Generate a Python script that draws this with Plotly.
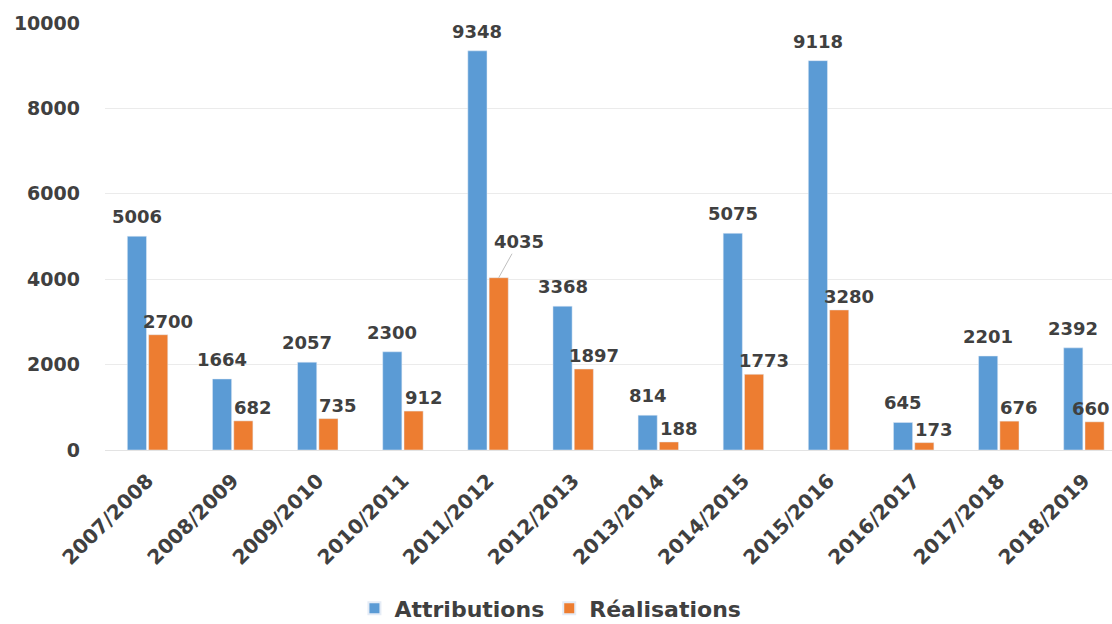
import plotly.graph_objects as go

seasons = ["2007/2008", "2008/2009", "2009/2010", "2010/2011", "2011/2012", "2012/2013",
           "2013/2014", "2014/2015", "2015/2016", "2016/2017", "2017/2018", "2018/2019"]
attributions = [5006, 1664, 2057, 2300, 9348, 3368, 814, 5075, 9118, 645, 2201, 2392]
realisations = [2700, 682, 735, 912, 4035, 1897, 188, 1773, 3280, 173, 676, 660]
y_ticks = [0, 2000, 4000, 6000, 8000, 10000]

BLUE = "#5B9BD5"
ORANGE = "#ED7D31"
TEXT = "#404040"
FONT = "DejaVu Sans"
LABEL_FONT = dict(family=FONT, size=18, color=TEXT, weight="bold")

fig = go.Figure()
fig.add_trace(go.Bar(name="Attributions", x=seasons, y=attributions, marker_color=BLUE))
fig.add_trace(go.Bar(name="Réalisations", x=seasons, y=realisations, marker_color=ORANGE))

annotations = []
# Blue value labels, centred over each bar
for i, v in enumerate(attributions):
    annotations.append(dict(
        x=i - 0.125, y=v, xref="x", yref="y", text=str(v),
        showarrow=False, yanchor="bottom", yshift=7, font=LABEL_FONT,
    ))

# Orange value labels sit slightly right of their bars; the tallest one uses a leader line,
# and the last one is pulled back so it stays inside the page edge
last = len(realisations) - 1
for i, v in enumerate(realisations):
    if v == max(realisations):
        annotations.append(dict(
            x=i + 0.125, y=v, xref="x", yref="y", text=str(v),
            showarrow=True, arrowhead=0, arrowwidth=1, arrowcolor="#bfbfbf",
            ax=20, ay=-36, standoff=0, font=LABEL_FONT,
        ))
    else:
        annotations.append(dict(
            x=i + 0.125, y=v, xref="x", yref="y", text=str(v),
            showarrow=False, yanchor="bottom", xshift=-4 if i == last else 10, yshift=1,
            font=LABEL_FONT,
        ))

fig.update_layout(
    width=1112, height=624,
    margin=dict(l=105, r=0, t=23, b=174),
    paper_bgcolor="white", plot_bgcolor="white",
    barmode="group", bargap=0.5, bargroupgap=0.1,
    annotations=annotations,
    legend=dict(
        orientation="h", xref="container", x=0.495, xanchor="center",
        yref="container", y=0.025, yanchor="middle",
        font=dict(family=FONT, size=22, color=TEXT, weight="bold"),
        itemsizing="constant",
    ),
    xaxis=dict(
        type="category", range=[-0.5, 11.33], tickangle=-45,
        tickfont=dict(family=FONT, size=20, color=TEXT, weight="bold"),
        showgrid=False, showline=False, ticks="", ticklabelstandoff=14,
    ),
    yaxis=dict(
        range=[0, 10000], tickvals=y_ticks, ticktext=[str(t) for t in y_ticks],
        tickfont=dict(family=FONT, size=19, color=TEXT, weight="bold"),
        showgrid=True, gridcolor="#ebebeb", gridwidth=1,
        zeroline=True, zerolinecolor="#e3e3e3", zerolinewidth=1,
        showline=False, ticks="", ticklabelstandoff=24,
    ),
)

fig.write_html("out.html")
